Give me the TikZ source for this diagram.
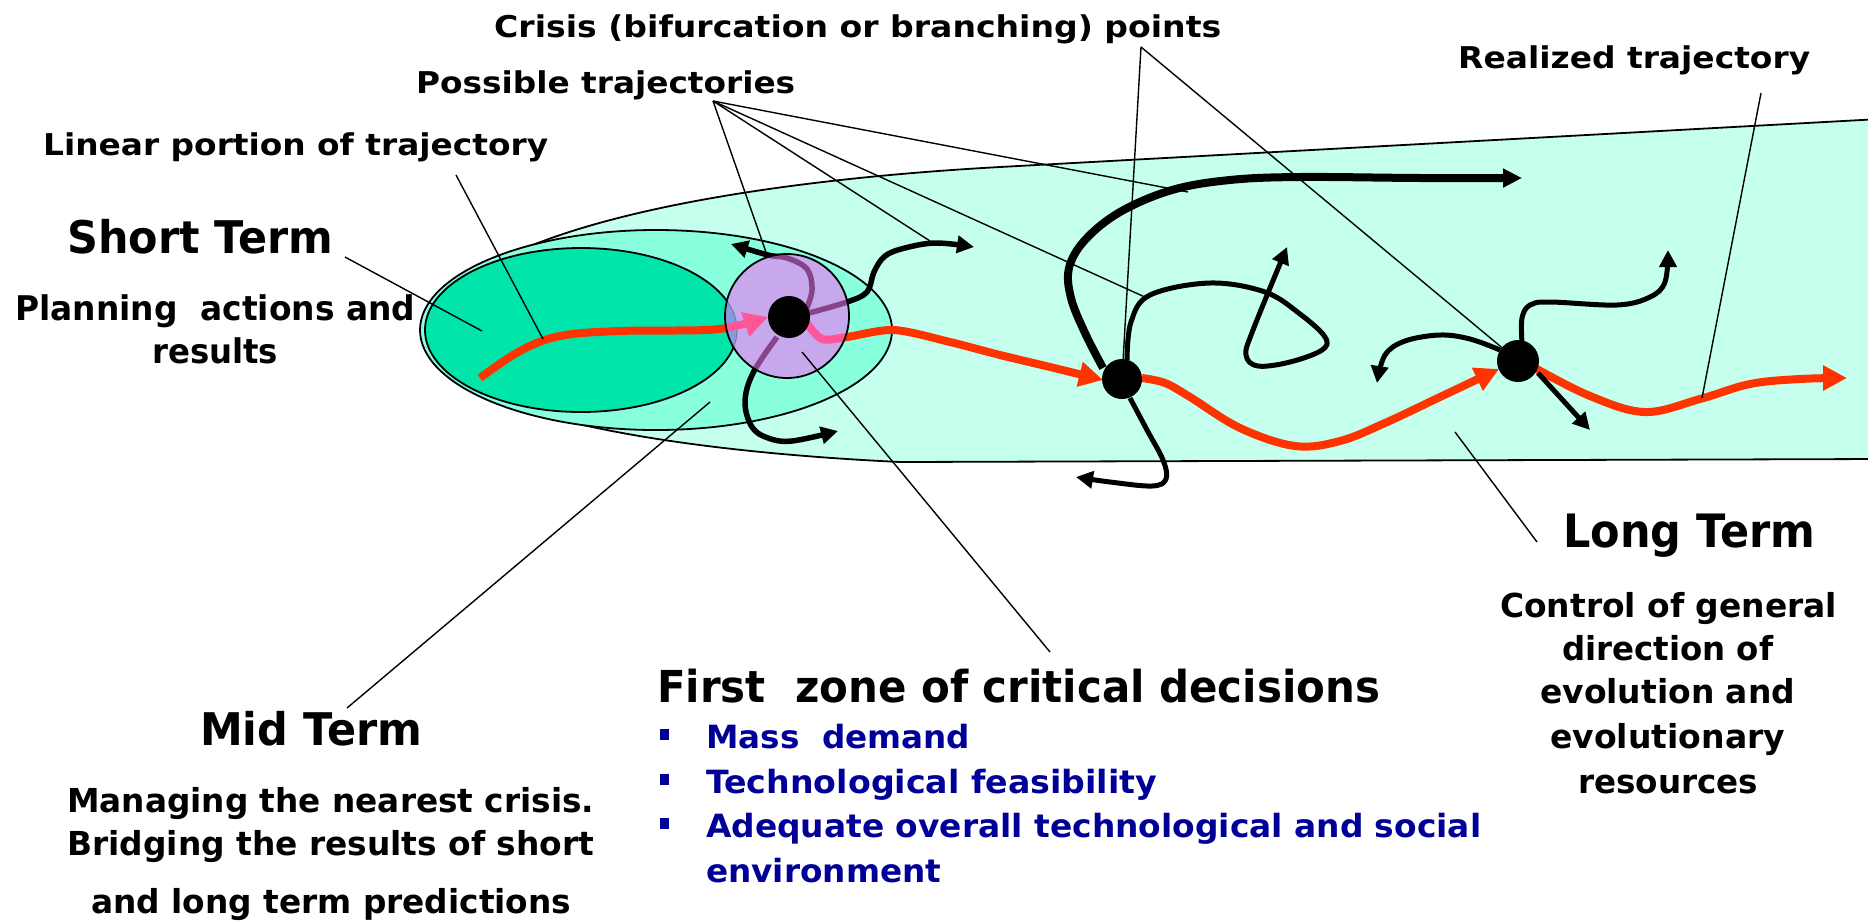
\documentclass[tikz,border=0pt]{standalone}
\usepackage{fontspec}
\usepackage{graphicx}
\usetikzlibrary{arrows.meta}
\newfontfamily\tah{DejaVu Sans}
\definecolor{longc}{HTML}{C5FFEE}
\definecolor{midc}{HTML}{88FFDD}
\definecolor{shortc}{HTML}{00E6AA}
\definecolor{lav}{HTML}{C8A8EC}
\definecolor{redt}{HTML}{FF3300}
\definecolor{pinkt}{HTML}{FF5599}
\definecolor{purt}{HTML}{884488}
\definecolor{bluet}{HTML}{000099}
\definecolor{overlap}{HTML}{8899DD}
\newcommand\T[3]{\resizebox{#2pt}{\height}{\fontsize{#1pt}{#1pt}\tah\bfseries #3}}
\begin{document}
\begin{tikzpicture}[x=1pt,y=-1pt,line join=round,
  lbl/.style={inner sep=0pt,anchor=base west},
  leader/.style={line width=1.4pt,draw=black},
  redtraj/.style={line width=8pt,draw=redt,-{Triangle[length=24pt,width=24pt]}},
  blk/.style={line width=5pt,draw=black,-{Triangle[length=17pt,width=17pt]}},
  dot/.style={circle,fill=black,inner sep=0pt,minimum size=42pt},
  zoneline/.style={line width=1.8pt,draw=black}]
\clip (0,0) rectangle (1868,922);
% zones
\filldraw[zoneline,fill=longc] (1880,119) -- (1000,167) .. controls (800,178) and (470,215) .. (421,330) .. controls (425,410) and (650,450) .. (900,462) -- (1880,459);
\filldraw[zoneline,fill=midc] (656,330) ellipse [x radius=236pt,y radius=100pt];
\filldraw[zoneline,fill=shortc] (581,330) ellipse [x radius=156pt,y radius=82pt];
% trajectories
\def\rA{plot[smooth,tension=0.6] coordinates {(480,378) (520,351) (560,336) (620,331) (706,330) (740,325) (768,317)}}
\def\rB{plot[smooth,tension=0.5] coordinates {(806,322) (822,339) (847,337) (894,330) (950,342) (1000,355) (1050,367) (1103,380)}}
\def\rC{plot[smooth,tension=0.6] coordinates {(1142,378) (1165,383) (1190,397) (1240,428) (1295,446) (1340,441) (1385,423) (1440,397) (1499,369)}}
\def\rD{plot[smooth,tension=0.6] coordinates {(1535,368) (1590,396) (1645,412) (1700,399) (1750,384) (1800,379) (1847,378)}}
\def\kA{plot[smooth,tension=0.6] coordinates {(806,310) (812,290) (807,269) (787,258) (768,255) (731,244)}}
\def\kB{plot[smooth,tension=0.6] coordinates {(809,313) (847,302) (867,292) (874,272) (885,256) (905,248) (936,243) (974,247)}}
\def\kC{plot[smooth,tension=0.6] coordinates {(777,337) (753,373) (745,402) (752,427) (768,438) (792,441) (838,431)}}
\def\kD{plot[smooth,tension=0.6] coordinates {(1103,368) (1085,333) (1071,298) (1069,268) (1085,240) (1120,212) (1172,190) (1230,180) (1300,177) (1421,178) (1522,178)}}
\def\kE{plot[smooth,tension=0.6] coordinates {(1127,360) (1131,322) (1150,295) (1210,283) (1265,292) (1300,314) (1325,337) (1322,350) (1290,362) (1258,366) (1246,355) (1253,330) (1287,247)}}
\def\kF{plot[smooth,tension=0.6] coordinates {(1130,398) (1147,430) (1163,460) (1166,479) (1152,486) (1110,482) (1076,477)}}
\def\kG{plot[smooth,tension=0.6] coordinates {(1500,350) (1470,339) (1440,335) (1405,341) (1385,355) (1377,383)}}
\def\kH{plot[smooth,tension=0.6] coordinates {(1522,343) (1522,318) (1530,305) (1550,302) (1617,305) (1650,297) (1665,282) (1668,250)}}
\draw[redtraj] \rA;
\draw[redtraj] \rB;
\draw[redtraj] \rC;
\draw[redtraj] \rD;
\draw[blk,line width=5.5pt] \kA;
\draw[blk,line width=5.5pt] \kB;
\draw[blk,line width=5.5pt] \kC;
\draw[blk,line width=8pt,-{Triangle[length=19pt,width=18pt]}] \kD;
\draw[blk] \kE;
\draw[blk] \kF;
\draw[blk] \kG;
\draw[blk] \kH;
\draw[blk] (1538,373) -- (1590,430);
% first zone of critical decisions
\fill[lav] (787,316) circle (62pt);
\begin{scope}
\clip (787,316) circle (62pt);
\fill[overlap] (581,330) ellipse [x radius=156pt,y radius=82pt];
\draw[line width=1pt,draw=overlap!80!black] (581,330) ellipse [x radius=156pt,y radius=82pt];
\draw[redtraj,draw=pinkt] \rA;
\draw[line width=8pt,draw=pinkt] \rB;
\draw[line width=5.5pt,draw=purt] \kA;
\draw[line width=5.5pt,draw=purt] \kB;
\draw[line width=5.5pt,draw=purt] \kC;
\end{scope}
\node[circle,draw=black,line width=1.8pt,minimum size=124pt,inner sep=0pt] (zone) at (787,316) {};
\node[dot] (p0) at (789,317) {};
\node[dot,minimum size=40pt] (p1) at (1122,379) {};
\node[dot] (p2) at (1518,361) {};
% leaders
\coordinate (cA) at (1141,47);
\coordinate (pA) at (713,101);
\coordinate (pT1) at (767,255);
\coordinate (pT2) at (930,241);
\coordinate (pT3) at (1147,298);
\coordinate (pT4) at (1188,192);
\coordinate (lA) at (456,175);
\coordinate (lB) at (543,339);
\coordinate (rA) at (1761,93);
\coordinate (rB) at (1702,398);
\coordinate (sA) at (345,257);
\coordinate (sB) at (482,331);
\coordinate (mA) at (347,708);
\coordinate (mB) at (710,402);
\coordinate (fA) at (802,352);
\coordinate (fB) at (1050,652);
\coordinate (gA) at (1455,432);
\coordinate (gB) at (1537,542);
\draw[leader] (cA) -- (p1);
\draw[leader] (cA) -- (p2);
\draw[leader] (pA) -- (pT1);
\draw[leader] (pA) -- (pT2);
\draw[leader] (pA) -- (pT3);
\draw[leader] (pA) -- (pT4);
\draw[leader] (lA) -- (lB);
\draw[leader] (rA) -- (rB);
\draw[leader] (sA) -- (sB);
\draw[leader] (mA) -- (mB);
\draw[leader] (fA) -- (fB);
\draw[leader] (gA) -- (gB);
% texts
\node[lbl] (crisis) at (494,37) {\T{30}{727}{Crisis (bifurcation or branching) points}};
\node[lbl] (possible) at (416,93) {\T{30}{379}{Possible trajectories}};
\node[lbl] (linear) at (43,155) {\T{30}{505}{Linear portion of trajectory}};
\node[lbl] (realized) at (1458,68) {\T{30}{352}{Realized trajectory}};
\node[lbl] (shortT) at (67,253) {\T{45}{266}{Short Term}};
\node[lbl] (plan1) at (15,320) {\T{34}{400}{Planning\ \ actions and}};
\node[lbl] (plan2) at (152,363) {\T{34}{126}{results}};
\node[lbl] (midT) at (200,745) {\T{45}{222}{Mid Term}};
\node[lbl] (man1) at (67,812) {\T{33}{527}{Managing the nearest crisis.}};
\node[lbl] (man2) at (67,855) {\T{33}{527}{Bridging the results of short}};
\node[lbl] (man3) at (91,913) {\T{33}{480}{and long term predictions}};
\node[lbl] (first) at (657,702) {\T{44}{723}{First\ \ zone of critical decisions}};
\node[lbl,text=bluet] (b1) at (706,748) {\T{32}{264}{Mass\ \ demand}};
\node[lbl,text=bluet] (b2) at (706,793) {\T{32}{451}{Technological feasibility}};
\node[lbl,text=bluet] (b3) at (706,837) {\T{32}{775}{Adequate overall technological and social}};
\node[lbl,text=bluet] (b4) at (706,882) {\T{32}{235}{environment}};
\fill[bluet] (660,729) rectangle (669,740);
\fill[bluet] (660,774) rectangle (669,785);
\fill[bluet] (660,818) rectangle (669,829);
\node[lbl] (longT) at (1563,547) {\T{46}{252}{Long Term}};
\node[lbl] (c1) at (1500,617) {\T{33}{337}{Control of general}};
\node[lbl] (c2) at (1562,660) {\T{33}{211}{direction of}};
\node[lbl] (c3) at (1540,703) {\T{33}{255}{evolution and}};
\node[lbl] (c4) at (1550,748) {\T{33}{235}{evolutionary}};
\node[lbl] (c5) at (1578,793) {\T{33}{180}{resources}};
\end{tikzpicture}
\end{document}
